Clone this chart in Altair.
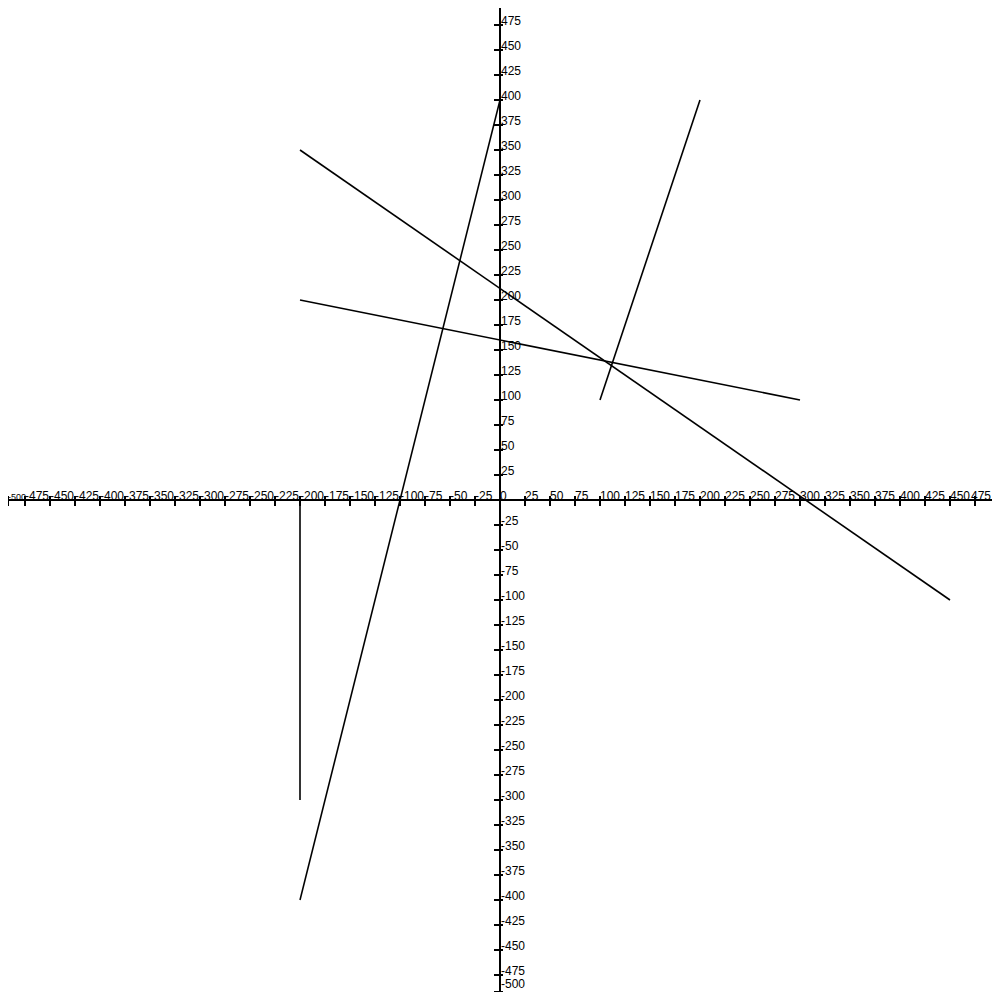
import altair as alt
import pandas as pd

# line segments (data units)
seg_x1 = [-200, -200, 100, -200, -200]
seg_y1 = [350, 200, 100, -400, 0]
seg_x2 = [450, 300, 200, 0, -200]
seg_y2 = [-100, 100, 400, 400, -300]

# axis tick values / labels
x_ticks = [-500, -475, -450, -425, -400, -375, -350, -325, -300, -275, -250, -225,
           -200, -175, -150, -125, -100, -75, -50, -25, 0, 25, 50, 75, 100, 125,
           150, 175, 200, 225, 250, 275, 300, 325, 350, 375, 400, 425, 450, 475]
y_ticks = [-500, -475, -450, -425, -400, -375, -350, -325, -300, -275, -250, -225,
           -200, -175, -150, -125, -100, -75, -50, -25, 25, 50, 75, 100, 125,
           150, 175, 200, 225, 250, 275, 300, 325, 350, 375, 400, 425, 450, 475]

axis_extent = [-500, 500]

# plot area 984 px = 984 units, origin at page (500, 500)
XS = alt.Scale(domain=[-492, 492], nice=False, zero=False)
YS = alt.Scale(domain=[-492, 492], nice=False, zero=False)
# clamped versions keep edge labels inside the visible area
XSC = alt.Scale(domain=[-492, 492], nice=False, zero=False, clamp=True)
YSC = alt.Scale(domain=[-492, 492], nice=False, zero=False, clamp=True)

segs = pd.DataFrame({"x": seg_x1, "y": seg_y1, "x2": seg_x2, "y2": seg_y2})
axes_df = pd.DataFrame({
    "x": [axis_extent[0], 0], "y": [0, axis_extent[0]],
    "x2": [axis_extent[1], 0], "y2": [0, axis_extent[1]],
})
xt = pd.DataFrame({"v": x_ticks, "lab": [str(v) for v in x_ticks]})
yt = pd.DataFrame({"v": y_ticks, "lab": [str(v) for v in y_ticks]})

base_x = alt.X("x:Q", scale=XS, axis=None)
base_y = alt.Y("y:Q", scale=YS, axis=None)

axes = alt.Chart(axes_df).mark_rule(color="black", strokeWidth=2).encode(
    x=base_x, y=base_y, x2="x2:Q", y2="y2:Q")

xtick = alt.Chart(xt).mark_rule(color="black", strokeWidth=2).encode(
    x=alt.X("v:Q", scale=XS, axis=None),
    y=alt.value(492 - 4), y2=alt.value(492 + 6))

ytick = alt.Chart(yt).mark_rule(color="black", strokeWidth=2).encode(
    y=alt.Y("v:Q", scale=YS, axis=None),
    x=alt.value(492 - 6), x2=alt.value(492 + 3))

txt = dict(align="left", baseline="alphabetic", font="Liberation Sans", color="black")

xlab = alt.Chart(xt).transform_filter(
    (alt.datum.v > -500) & (alt.datum.v < 475)).mark_text(fontSize=12, **txt).encode(
    x=alt.X("v:Q", scale=XSC, axis=None), y=alt.value(492 - 0.5), text="lab:N")

xlab_left = alt.Chart(xt).transform_filter(alt.datum.v <= -500).mark_text(fontSize=9, **txt).encode(
    x=alt.X("v:Q", scale=XSC, axis=None), y=alt.value(492 - 0.5), text="lab:N")

xlab_right = alt.Chart(xt).transform_filter(alt.datum.v >= 475).mark_text(dx=-4, fontSize=12, **txt).encode(
    x=alt.X("v:Q", scale=XSC, axis=None), y=alt.value(492 - 0.5), text="lab:N")

ylab = alt.Chart(yt).transform_filter(alt.datum.v > -500).mark_text(dx=1, fontSize=12, **txt).encode(
    y=alt.Y("v:Q", scale=YSC, axis=None), x=alt.value(492), text="lab:N")

ylab_bottom = alt.Chart(yt).transform_filter(alt.datum.v <= -500).mark_text(dx=1, dy=-4, fontSize=12, **txt).encode(
    y=alt.Y("v:Q", scale=YSC, axis=None), x=alt.value(492), text="lab:N")

lines = alt.Chart(segs).mark_rule(color="black", strokeWidth=1.6).encode(
    x=base_x, y=base_y, x2="x2:Q", y2="y2:Q")

chart = alt.layer(axes, xtick, ytick, xlab, xlab_left, xlab_right, ylab, ylab_bottom, lines).properties(
    width=984, height=984, padding=0, autosize=alt.AutoSizeParams(type="none"),
    background="white"
).configure_view(stroke=None)

chart.save("out.html", embed_options={"renderer": "svg", "actions": False})
